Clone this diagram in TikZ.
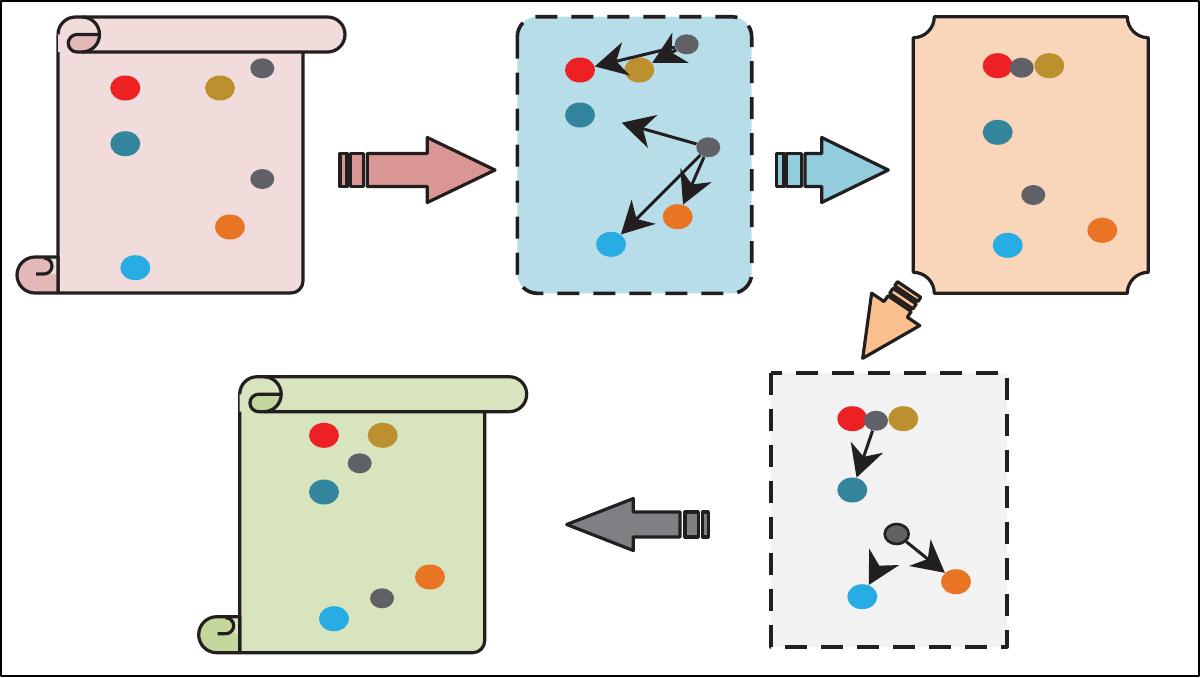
\documentclass[tikz,border=0pt]{standalone}
\usepackage{tikz}
\usetikzlibrary{shapes,arrows.meta,calc}

\definecolor{ink}{HTML}{231F20}
\definecolor{scrollpink}{HTML}{F2DCDB}
\definecolor{curlpink}{HTML}{E3B8B7}
\definecolor{scrollgreen}{HTML}{D7E4BD}
\definecolor{curlgreen}{HTML}{C3D69B}
\definecolor{boxblue}{HTML}{B7DEE8}
\definecolor{boxorange}{HTML}{F9D6B9}
\definecolor{boxgray}{HTML}{F2F2F2}
\definecolor{arrpink}{HTML}{D99694}
\definecolor{arrblue}{HTML}{93CDDD}
\definecolor{arrorange}{HTML}{FAC090}
\definecolor{arrgray}{HTML}{7F8083}
\definecolor{dotred}{HTML}{ED2024}
\definecolor{dotgold}{HTML}{BD902F}
\definecolor{dotgray}{HTML}{606166}
\definecolor{dotteal}{HTML}{32859C}
\definecolor{dotorange}{HTML}{E87424}
\definecolor{dotblue}{HTML}{27ADE3}

\begin{document}
\begin{tikzpicture}[x=0.5pt,y=-0.5pt,line join=round,
    outline/.style={draw=ink,line width=1.6pt},
    dashbox/.style={draw=ink,line width=1.8pt,dash pattern=on 11pt off 7pt},
    dot/.style={ellipse,inner sep=0pt,minimum width=15pt,minimum height=12.5pt},
    smalldot/.style={ellipse,inner sep=0pt,minimum width=12pt,minimum height=10pt,fill=dotgray},
    link/.style={draw=ink,line width=1.5pt,-{Stealth[length=16pt,width=17pt,inset=5pt]}}]

\useasboundingbox (0,0) rectangle (1200,677);
\draw[line width=1.2pt] (1.2,1.2) rectangle (1198.8,675.8);

% scrolls (first and last step)
\foreach \sx/\sy/\pale/\deep in {0/0/scrollpink/curlpink, 181.7/359.7/scrollgreen/curlgreen}{
\begin{scope}[shift={(\sx,\sy)}]
  \filldraw[fill=\pale,outline] (58,34.5) -- (58,293) -- (291,293) arc[start angle=90,end angle=0,radius=12] -- (303,52);
  \fill[\pale] (58,34.5) arc[start angle=180,end angle=270,radius=17.5] -- (327.5,17) arc[start angle=-90,end angle=90,radius=17.5] -- (58,52) -- cycle;
  \fill[\deep] (77,52) arc[start angle=90,end angle=270,radius=8.75] -- (99.5,34.5) arc[start angle=0,end angle=90,radius=17.5] -- cycle;
  \draw[outline] (58,34.5) arc[start angle=180,end angle=270,radius=17.5] -- (327.5,17) arc[start angle=-90,end angle=90,radius=17.5] -- (77,52) arc[start angle=90,end angle=270,radius=8.75] -- (99.5,34.5);
  \draw[outline] (82,17) arc[start angle=-90,end angle=90,radius=17.5];
  \fill[\deep] (58,293) -- (58,257) -- (35,257) arc[start angle=270,end angle=90,radius=18] -- cycle;
  \fill[\pale] (44,274) arc[start angle=90,end angle=-90,radius=8] -- (58,258) -- (58,274) -- cycle;
  \draw[outline] (58,293) -- (58,257) -- (35,257) arc[start angle=270,end angle=90,radius=18] -- (58,293);
  \draw[outline] (36,274) -- (44,274) arc[start angle=90,end angle=-90,radius=8];
\end{scope}}

% middle steps
\filldraw[fill=boxblue,dashbox,rounded corners=10pt] (517.3,16.7) rectangle (751.7,293.3);
\filldraw[fill=boxorange,outline] (934.3,16.7) -- (1127.3,16.7) arc[start angle=180,end angle=90,radius=21]
  -- (1148.3,272.3) arc[start angle=270,end angle=180,radius=21]
  -- (934.3,293.3) arc[start angle=0,end angle=-90,radius=21]
  -- (913.3,37.7) arc[start angle=90,end angle=0,radius=21] -- cycle;
\filldraw[fill=boxgray,dashbox] (771,372.7) rectangle (1006.7,646.7);

% block arrows
\filldraw[fill=arrpink,outline] (340,153.5) rectangle (347,186.5);
\filldraw[fill=arrpink,outline] (350.7,153.5) rectangle (363.3,186.5);
\filldraw[fill=arrpink,outline] (367.3,153.5) -- (427.3,153.5) -- (427.3,137.5) -- (495,170) -- (427.3,202.5) -- (427.3,186.5) -- (367.3,186.5) -- cycle;

\filldraw[fill=arrblue,outline] (776.7,153.5) rectangle (784,186.5);
\filldraw[fill=arrblue,outline] (786.7,153.5) rectangle (801.7,186.5);
\filldraw[fill=arrblue,outline] (805,153.5) -- (821.7,153.5) -- (821.7,137.5) -- (888.3,170) -- (821.7,202.5) -- (821.7,186.5) -- (805,186.5) -- cycle;

\begin{scope}[shift={(862.7,358.3)},rotate=236]
  \filldraw[fill=arrorange,outline] (-83,-14) rectangle (-78,14);
  \filldraw[fill=arrorange,outline] (-75,-14) rectangle (-69,14);
  \filldraw[fill=arrorange,outline] (-66,-14) -- (-59,-14) -- (-59,-29) -- (0,0) -- (-59,29) -- (-59,14) -- (-66,14) -- cycle;
\end{scope}

\filldraw[fill=arrgray,outline] (702.3,512) rectangle (708.3,537);
\filldraw[fill=arrgray,outline] (685,512) rectangle (698.3,537);
\filldraw[fill=arrgray,outline] (680,512) -- (633.3,512) -- (633.3,498.5) -- (566.7,524.5) -- (633.3,550.5) -- (633.3,537) -- (680,537) -- cycle;

% dots, step 1
\node[dot,fill=dotred] (r1) at (125.3,88) {};
\node[dot,fill=dotgold] (g1) at (220,88) {};
\node[smalldot] (k1a) at (262.3,68.3) {};
\node[dot,fill=dotteal] (t1) at (125.3,143.7) {};
\node[smalldot] (k1b) at (262.3,179) {};
\node[dot,fill=dotorange] (o1) at (230,227) {};
\node[dot,fill=dotblue] (b1) at (135.3,267.7) {};

% dots, step 2
\node[dot,fill=dotred] (r2) at (580,70) {};
\node[dot,fill=dotgold] (g2) at (639.3,70) {};
\node[smalldot] (k2a) at (686.7,44.3) {};
\node[dot,fill=dotteal] (t2) at (580,115) {};
\node[smalldot] (k2b) at (708.3,147.3) {};
\node[dot,fill=dotorange] (o2) at (677.7,216.7) {};
\node[dot,fill=dotblue] (b2) at (611,244.3) {};
\coordinate (aim) at (621.7,122.7);

% dots, step 3
\node[dot,fill=dotred] (r3) at (997.7,65.7) {};
\node[smalldot] (k3a) at (1021.7,67.7) {};
\node[dot,fill=dotgold] (g3) at (1049.3,65.7) {};
\node[dot,fill=dotteal] (t3) at (997.7,132.3) {};
\node[smalldot] (k3b) at (1033.3,195) {};
\node[dot,fill=dotorange] (o3) at (1102.3,230.3) {};
\node[dot,fill=dotblue] (b3) at (1007.7,245.3) {};

% dots, step 4
\node[dot,fill=dotred] (r4) at (852.3,418.7) {};
\node[smalldot] (k4a) at (876,420.7) {};
\node[dot,fill=dotgold] (g4) at (903.3,418.7) {};
\node[dot,fill=dotteal] (t4) at (852.3,490) {};
\node[smalldot,draw=ink,line width=1.3pt] (k4b) at (896.7,534) {};
\node[dot,fill=dotblue] (b4) at (862.3,596.7) {};
\node[dot,fill=dotorange] (o4) at (956,581.7) {};

% dots, step 5
\node[dot,fill=dotred] (r5) at (324,435.3) {};
\node[dot,fill=dotgold] (g5) at (382.7,435.3) {};
\node[smalldot] (k5a) at (359.7,463.3) {};
\node[dot,fill=dotteal] (t5) at (324,492) {};
\node[dot,fill=dotorange] (o5) at (430,577) {};
\node[smalldot] (k5b) at (382,598.3) {};
\node[dot,fill=dotblue] (b5) at (334,618.7) {};

% links
\draw[link] (k2a) -- (r2);
\draw[link] (k2a) -- (g2);
\draw[link] (k2b) -- (aim);
\draw[link] (k2b) -- (o2);
\draw[link] (k2b) -- (b2);
\draw[link] (k4a) -- (t4);
\draw[link] (k4b) -- (o4);
\draw[link,shorten <=16pt] (k4b) -- (b4);
\end{tikzpicture}
\end{document}
